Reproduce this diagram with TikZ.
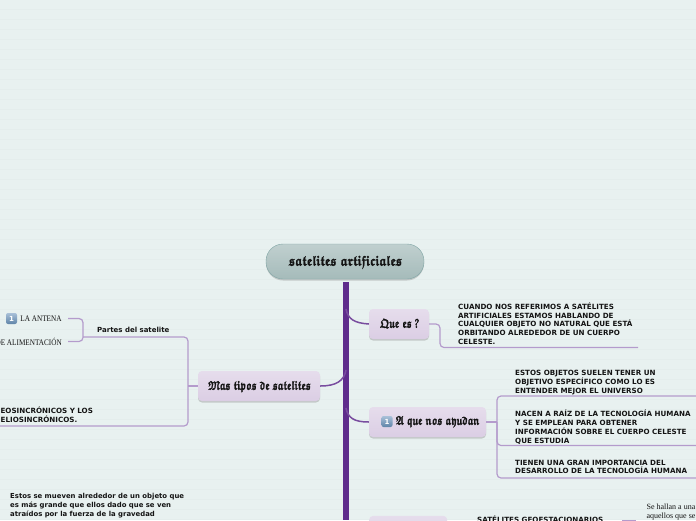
\documentclass[tikz,border=0pt]{standalone}
\usepackage{fontspec}
\setmainfont{Liberation Serif}
\newfontfamily\boldsans{DejaVu Sans Bold}
\usetikzlibrary{positioning, calc, shadows}
\definecolor{paper}{HTML}{E8F1F0}
\definecolor{stripe}{HTML}{E4EDEC}
\definecolor{spine}{HTML}{5F2C8C}
\definecolor{twig}{HTML}{B49BCC}
\definecolor{ink}{HTML}{141414}
\definecolor{lilac}{HTML}{DBCEE4}
\definecolor{seagrey}{HTML}{A5BBBA}
\definecolor{seaedge}{HTML}{7FA5A5}
\definecolor{iconlight}{HTML}{A9C0D8}
\definecolor{icondark}{HTML}{5E84A8}
\font\gothsmall=eufb10 at 12.5pt
\font\gothbig=eufb10 at 14pt
% blackletter look: squeezed and slightly stroked
\newcommand{\heavygoth}[2]{\scalebox{#1}[1]{\special{pdf: code q 2 Tr 0.3 w}#2\special{pdf: code Q}}}
\tikzset{
    topic/.style={rounded corners=4pt, top color=#1!70!white, bottom color=#1,
        drop shadow={shadow xshift=0pt, shadow yshift=-1.5pt, opacity=0.35}, inner sep=0pt},
    topic/.default=lilac,
    gothlabel/.style={font=\gothsmall, text=ink, inner sep=0pt},
    note/.style={font=\fontsize{7.15}{8.75}\selectfont\boldsans, text=ink, align=left, anchor=north west, inner sep=0pt},
    leaf/.style={font=\fontsize{8.5}{8.5}\selectfont, text=ink, inner sep=0pt},
    twigline/.style={draw=twig, line width=1.2pt, rounded corners=4pt},
    trunk/.style={draw=spine!70!twig, line width=1.5pt},
    numicon/.style={rounded corners=2pt, top color=iconlight, bottom color=icondark,
        text=white, font=\fontsize{7}{7}\selectfont\boldsans, inner sep=0pt},
}
\begin{document}
\begin{tikzpicture}[x=1pt, y=-1pt]
    \useasboundingbox (0,0) rectangle (696,520);
    % Background with its faint stripes
    \fill[paper] (0,0) rectangle (696,520);
    \foreach \ypos in {9.5,19.5,...,520} {
        \draw[stripe, line width=0.8pt] (0,\ypos) -- (696,\ypos);
    }

    % Trunk
    \coordinate (trunktop) at (346,282);
    \coordinate (trunkend) at (346,520);
    \draw[spine, line width=6pt] (trunktop) -- (trunkend);

    % Central topic
    \node[topic=seagrey, rounded corners=17pt, draw=seaedge, minimum width=158pt, minimum height=35pt] (central) at (345,261.5) {};
    \node[gothlabel, font=\gothbig] (centrallabel) at (345.5,262) {\heavygoth{.84}{satelites artificiales}};

    % Main topics
    \node[topic, minimum width=60pt, minimum height=30pt] (quees) at (399,324) {};
    \node[gothlabel] (queeslabel) at (399.5,323.5) {\heavygoth{.75}{Que es ?}};
    \node[topic, minimum width=117pt, minimum height=30pt] (ayudan) at (427.5,422) {};
    \node[numicon, minimum width=11pt, minimum height=11pt] (ayudanicon) at (387,421.5) {1};
    \node[gothlabel, right=3pt of ayudanicon] (ayudanlabel) {\heavygoth{.75}{A que nos ayudan}};
    \node[topic, minimum width=122pt, minimum height=30pt] (tipos) at (259,386) {};
    \node[gothlabel] (tiposlabel) at (259.5,386.5) {\heavygoth{.75}{Mas tipos de satelites}};
    \node[topic, minimum width=78pt, minimum height=30pt, anchor=south west] (lastbox) at (369,546) {};

    % Branches off the trunk
    \draw[trunk] (346,309) .. controls (348,319) and (354,323) .. (quees.west);
    \draw[trunk] (346,408) .. controls (348,418) and (354,422) .. (ayudan.west);
    \draw[trunk] (346,370) .. controls (344,381) and (336,386) .. (tipos.east);

    % Que es ?
    \node[note] (quenote) at (458,302.5) {CUANDO NOS REFERIMOS A SATÉLITES\\ARTIFICIALES ESTAMOS HABLANDO DE\\CUALQUIER OBJETO NO NATURAL QUE ESTÁ\\ORBITANDO ALREDEDOR DE UN CUERPO\\CELESTE.};
    \coordinate (queend) at (638,347.5);
    \draw[twigline] (quees.east) -- (440,324) -- (440,347.5) -- (queend);

    % A que nos ayudan
    \node[note] (ayudaone) at (515,370) {ESTOS OBJETOS SUELEN TENER UN\\OBJETIVO ESPECÍFICO COMO LO ES\\ENTENDER MEJOR EL UNIVERSO};
    \node[note] (ayudatwo) at (515,410) {NACEN A RAÍZ DE LA TECNOLOGÍA HUMANA\\Y SE EMPLEAN PARA OBTENER\\INFORMACIÓN SOBRE EL CUERPO CELESTE\\QUE ESTUDIA};
    \node[note] (ayudathree) at (515,459.5) {TIENEN UNA GRAN IMPORTANCIA DEL\\DESARROLLO DE LA TECNOLOGÍA HUMANA};
    \coordinate (ayudafork) at (497,422);
    \coordinate (ayudaendone) at (697,396);
    \coordinate (ayudaendtwo) at (697,445.5);
    \coordinate (ayudaendthree) at (697,478);
    \draw[twigline] (ayudan.east) -- (ayudafork);
    \draw[twigline] (ayudaendone) -- (497,396) -- (497,478) -- (ayudaendthree);
    \draw[twigline] (ayudafork) |- (ayudaendtwo);

    % Mas tipos de satelites
    \node[note, font=\fontsize{7}{8.75}\selectfont\boldsans, anchor=west] (partes) at (97,330) {Partes del satelite};
    \node[numicon, minimum width=11pt, minimum height=11pt] (antenaicon) at (11.5,318.5) {1};
    \node[leaf, right=3pt of antenaicon] (antena) {\scalebox{.85}[1]{LA ANTENA}};
    \node[leaf, anchor=east] (fuente) at (62,341.5) {\scalebox{.85}[1]{DE ALIMENTACIÓN}};
    \node[note] (geo) at (-5.5,406.5) {GEOSINCRÓNICOS Y LOS\\HELIOSINCRÓNICOS.};
    \coordinate (tiposfork) at (188,386);
    \coordinate (geoend) at (-1,426);
    \coordinate (partesfork) at (83,337);
    \draw[twigline] (tipos.west) -- (tiposfork);
    \draw[twigline] (partesfork) -- (188,337) -- (188,426) -- (geoend);
    \draw[twigline] (68,318.5) -- (83,318.5) -- (83,341.5) -- (68,341.5);

    % Bottom of the map
    \node[note, font=\fontsize{6.9}{8.75}\selectfont\boldsans] (orbita) at (10,493.5) {Estos se mueven alrededor de un objeto que\\es más grande que ellos dado que se ven\\atraídos por la fuerza de la gravedad};
    \node[note] (geoest) at (477,515.5) {SATÉLITES GEOESTACIONARIOS};
    \node[leaf, font=\fontsize{8}{8.5}\selectfont, align=center, anchor=north] (hallan) at (671,504) {Se hallan a una\\aquellos que se};
    \coordinate (hallanfork) at (622,521);
    \coordinate (hallanend) at (636,521);
    \draw[twigline] (hallanfork) -- (hallanend);
\end{tikzpicture}
\end{document}
